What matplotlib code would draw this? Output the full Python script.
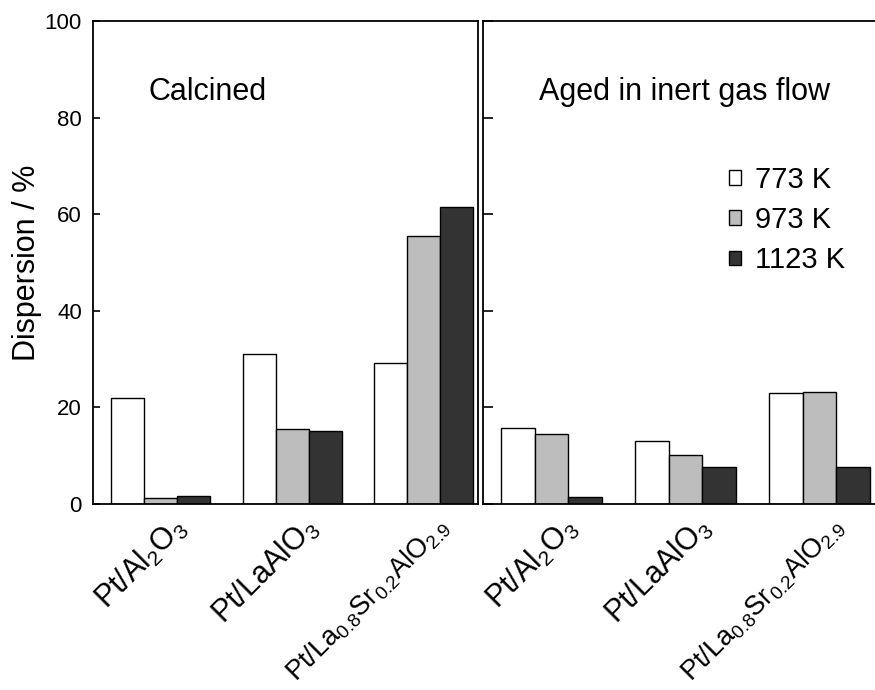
import matplotlib
matplotlib.use('Agg')
import matplotlib.pyplot as plt
import numpy as np

plt.rcParams['font.family'] = ['Liberation Sans', 'DejaVu Sans']
plt.rcParams['mathtext.fontset'] = 'custom'
plt.rcParams['mathtext.rm'] = 'Liberation Sans'

catalysts = [r'Pt/Al$_\mathregular{2}$O$_\mathregular{3}$',
             r'Pt/LaAlO$_\mathregular{3}$',
             r'Pt/La$_\mathregular{0.8}$Sr$_\mathregular{0.2}$AlO$_\mathregular{2.9}$']
label_sizes = [22, 22, 19.5]
temperatures = ['773 K', '973 K', '1123 K']
colors = ['white', '#bdbdbd', '#333333']

# dispersion (%) per temperature, one entry per catalyst
calcined = {
    '773 K': [21.9, 31.0, 29.1],
    '973 K': [1.2, 15.5, 55.5],
    '1123 K': [1.6, 15.1, 61.4],
}
aged = {
    '773 K': [15.7, 13.1, 22.9],
    '973 K': [14.4, 10.2, 23.2],
    '1123 K': [1.5, 7.7, 7.7],
}

fig = plt.figure(figsize=(8.75, 6.9), dpi=100)
W, H = 875, 690
ax1 = fig.add_axes([93 / W, 186 / H, (478 - 93) / W, 483 / H])
ax2 = fig.add_axes([483 / W, 186 / H, (877 - 483) / W, 483 / H])

x = np.arange(len(catalysts))
width = 0.25

for ax, data, title in [(ax1, calcined, 'Calcined'),
                        (ax2, aged, 'Aged in inert gas flow')]:
    for i, (t, c) in enumerate(zip(temperatures, colors)):
        ax.bar(x + (i - 1) * width, data[t], width, color=c,
               edgecolor='black', linewidth=1.0, label=t)
    ax.set_ylim(0, 100)
    ax.set_yticks(np.arange(0, 101, 20))
    ax.set_xticks(x)
    ax.tick_params(axis='x', length=0, labelbottom=False)
    # rotated catalyst names hang below each group, ending right of centre
    for xi, name, fs in zip(x, catalysts, label_sizes):
        ax.annotate(name, xy=(xi, 0), xycoords=ax.get_xaxis_transform(),
                    xytext=(21, -19), textcoords='offset pixels',
                    rotation=45, ha='right', va='center',
                    rotation_mode='anchor', fontsize=fs,
                    annotation_clip=False)
    ax.tick_params(axis='y', direction='in', length=5, width=1.2,
                   labelsize=16, pad=8)
    for s in ax.spines.values():
        s.set_linewidth(1.3)
    ax.text(-0.09, 85.3, title, fontsize=22, va='center')

ax1.set_xlim(-0.51, 2.41)
ax2.set_xlim(-0.51, 2.43)
ax2.tick_params(axis='y', labelleft=False, length=7)
ax1.set_ylabel('Dispersion / %', fontsize=22, labelpad=2)

ax2.legend(loc='upper left', bbox_to_anchor=(0.624, 0.70), frameon=False,
           fontsize=21, handlelength=0.4, handleheight=0.4,
           handletextpad=0.5, labelspacing=0.42, borderpad=0,
           borderaxespad=0)

fig.savefig('out.png', dpi=100)
